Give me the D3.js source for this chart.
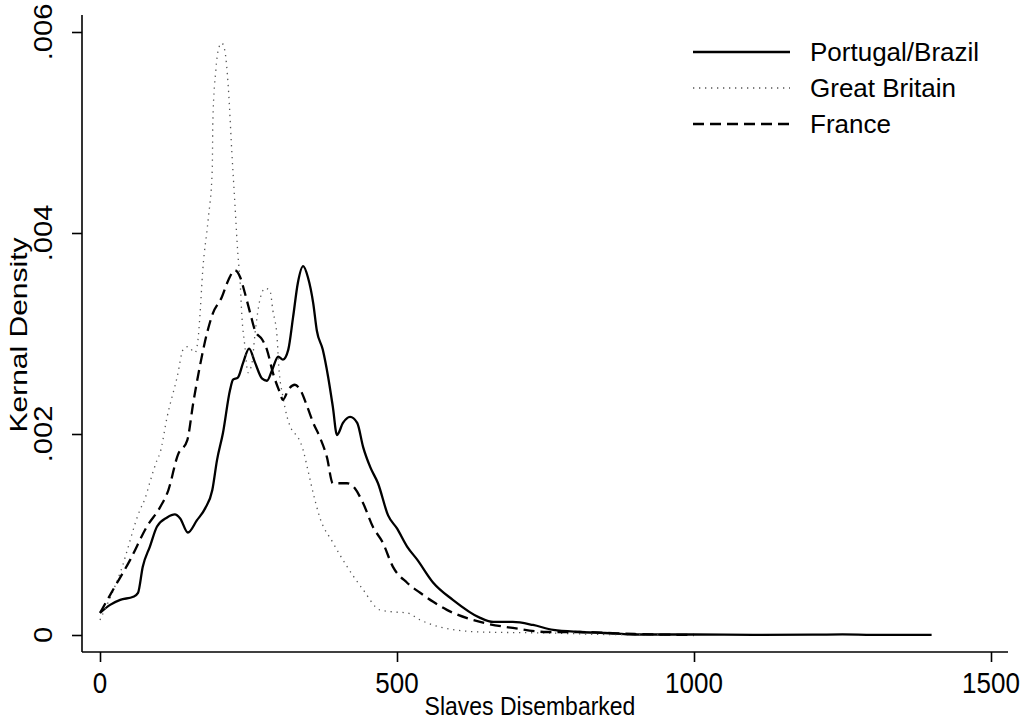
<!DOCTYPE html>
<html>
<head>
<meta charset="utf-8">
<script src="https://cdn.jsdelivr.net/npm/d3@7"></script>
<style>
  body { margin: 0; background: #fff; }
  text { font-family: "Liberation Sans", Arial, sans-serif; fill: #000; }
</style>
</head>
<body>
<svg id="canvas"></svg>
<script>
// slaves disembarked (x) and kernel density in units of 0.001 (y)
let portugalX = [0, 17, 34, 56, 64, 72, 84, 96, 113, 126, 135, 148, 163, 177, 189, 197, 207, 219, 224, 232, 241, 251, 261, 273, 281, 290, 300, 308, 317, 325, 333, 342, 350, 359, 365, 375, 384, 392, 399, 409, 421, 433, 443, 455, 468, 485, 500, 517, 534, 561, 594, 640, 662, 695, 729, 763, 808, 850, 900, 1000, 1100, 1200, 1250, 1300, 1400];
let portugalY = [0.22, 0.30, 0.35, 0.38, 0.42, 0.68, 0.88, 1.08, 1.17, 1.20, 1.16, 1.02, 1.14, 1.26, 1.44, 1.74, 2.01, 2.44, 2.54, 2.56, 2.71, 2.85, 2.71, 2.55, 2.53, 2.64, 2.77, 2.74, 2.84, 3.16, 3.50, 3.67, 3.56, 3.30, 3.03, 2.84, 2.57, 2.27, 1.99, 2.11, 2.17, 2.11, 1.87, 1.67, 1.51, 1.19, 1.06, 0.88, 0.75, 0.52, 0.35, 0.17, 0.13, 0.13, 0.10, 0.05, 0.03, 0.02, 0.005, 0.005, 0.002, 0.003, 0.006, 0.002, 0.001];

let britainX = [0, 34, 67, 76, 84, 96, 101, 113, 130, 140, 148, 160, 165, 168, 173, 182, 189, 190, 195, 199, 205, 210, 216, 222, 227, 232, 236, 239, 244, 249, 256, 261, 269, 278, 286, 291, 298, 301, 308, 315, 323, 333, 342, 350, 359, 370, 392, 416, 443, 471, 493, 517, 539, 572, 640, 753, 850, 950];
let britainY = [0.15, 0.62, 1.24, 1.36, 1.52, 1.74, 1.81, 2.17, 2.57, 2.84, 2.87, 2.81, 2.94, 3.16, 3.63, 4.13, 4.63, 5.12, 5.62, 5.82, 5.89, 5.82, 5.45, 4.80, 4.30, 3.80, 3.50, 3.16, 2.87, 2.61, 2.71, 3.00, 3.33, 3.45, 3.43, 3.23, 2.97, 2.67, 2.37, 2.17, 2.04, 1.97, 1.84, 1.64, 1.41, 1.17, 0.92, 0.68, 0.45, 0.25, 0.23, 0.22, 0.15, 0.08, 0.03, 0.02, 0.005, 0.0];

let franceX = [0, 22, 51, 79, 101, 115, 131, 147, 157, 168, 180, 190, 205, 216, 227, 236, 244, 253, 261, 273, 281, 291, 303, 308, 317, 328, 337, 349, 359, 370, 382, 392, 416, 429, 443, 460, 476, 493, 517, 539, 561, 584, 640, 695, 753, 808, 900, 1000];
let franceY = [0.22, 0.45, 0.75, 1.08, 1.27, 1.44, 1.79, 1.94, 2.31, 2.67, 3.00, 3.20, 3.36, 3.53, 3.63, 3.56, 3.40, 3.20, 3.03, 2.94, 2.84, 2.61, 2.41, 2.34, 2.44, 2.49, 2.44, 2.27, 2.11, 1.97, 1.77, 1.51, 1.51, 1.46, 1.31, 1.07, 0.92, 0.68, 0.52, 0.42, 0.33, 0.25, 0.13, 0.07, 0.03, 0.03, 0.01, 0.0];

let seriesNames = ['Portugal/Brazil', 'Great Britain', 'France'];
let xTicks = [0, 500, 1000, 1500];
let yTicks = [0, 0.002, 0.004, 0.006];
let yTickLabels = ['0', '.002', '.004', '.006'];

let w = 1024;
let h = 721;

let styles = [
  {stroke: '#000', width: 2.3, dash: null},
  {stroke: '#555', width: 1.3, dash: '1.3,4.7'},
  {stroke: '#000', width: 2.3, dash: '11,6'}
];

let canvas = d3.select('#canvas').attr('width', w).attr('height', h);

let xScale = d3.scaleLinear().domain([0, 1500]).range([100, 991]);
let yScale = d3.scaleLinear().domain([0, 0.006]).range([635, 32]);

const toPoints = (xs, ys) => xs.map((x, i) => [x, ys[i] / 1000]);
let series = [
  toPoints(portugalX, portugalY),
  toPoints(britainX, britainY),
  toPoints(franceX, franceY)
];

// text in the reference is a little taller than wide, so each label gets a vertical stretch
const label = (x, y, txt, size, stretch, rotate, anchor, baseline) => {
  canvas.append('text')
    .attr('transform', 'translate(' + x + ',' + y + ') scale(1,' + stretch + ')' + (rotate ? ' rotate(-90)' : ''))
    .attr('text-anchor', anchor || 'middle')
    .attr('dominant-baseline', baseline || 'central')
    .style('font-size', size + 'px')
    .text(txt);
};

// axes
let xAxis = d3.axisBottom(xScale).tickValues(xTicks).tickSize(10).tickFormat('');
canvas.append('g')
  .attr('transform', 'translate(0,652)')
  .call(xAxis)
  .call(g => g.select('.domain').attr('d', 'M82,0H1008'));

let yAxis = d3.axisLeft(yScale).tickValues(yTicks).tickSize(10).tickFormat('');
canvas.append('g')
  .attr('transform', 'translate(82,0)')
  .call(yAxis)
  .call(g => g.select('.domain').attr('d', 'M0,652V15'));

canvas.selectAll('.domain, .tick line').attr('stroke', '#000').attr('stroke-width', 1.6);

xTicks.forEach(t => label(xScale(t), 683, String(t), 26, 1.1));
yTicks.forEach((t, i) => label(43, yScale(t), yTickLabels[i], 26, 1.12, true));

label(530, 715, 'Slaves Disembarked', 23, 1.15, false, 'middle', 'alphabetic');
label(19, 335, 'Kernal Density', 24, 1.25, true);

// density curves
let line = d3.line()
  .x(d => xScale(d[0]))
  .y(d => yScale(d[1]))
  .curve(d3.curveMonotoneX);

series.forEach((s, i) => {
  canvas.append('path')
    .datum(s)
    .attr('d', line)
    .attr('fill', 'none')
    .attr('stroke', styles[i].stroke)
    .attr('stroke-width', styles[i].width)
    .attr('stroke-dasharray', styles[i].dash)
    .attr('stroke-linejoin', 'round');
});

// legend
let legendY = [52, 88, 124];
seriesNames.forEach((name, i) => {
  canvas.append('line')
    .attr('x1', 693).attr('x2', 790)
    .attr('y1', legendY[i]).attr('y2', legendY[i])
    .attr('stroke', styles[i].stroke)
    .attr('stroke-width', styles[i].width)
    .attr('stroke-dasharray', styles[i].dash);
  label(810, legendY[i], name, 26, 1.0, false, 'start');
});
</script>
</body>
</html>
